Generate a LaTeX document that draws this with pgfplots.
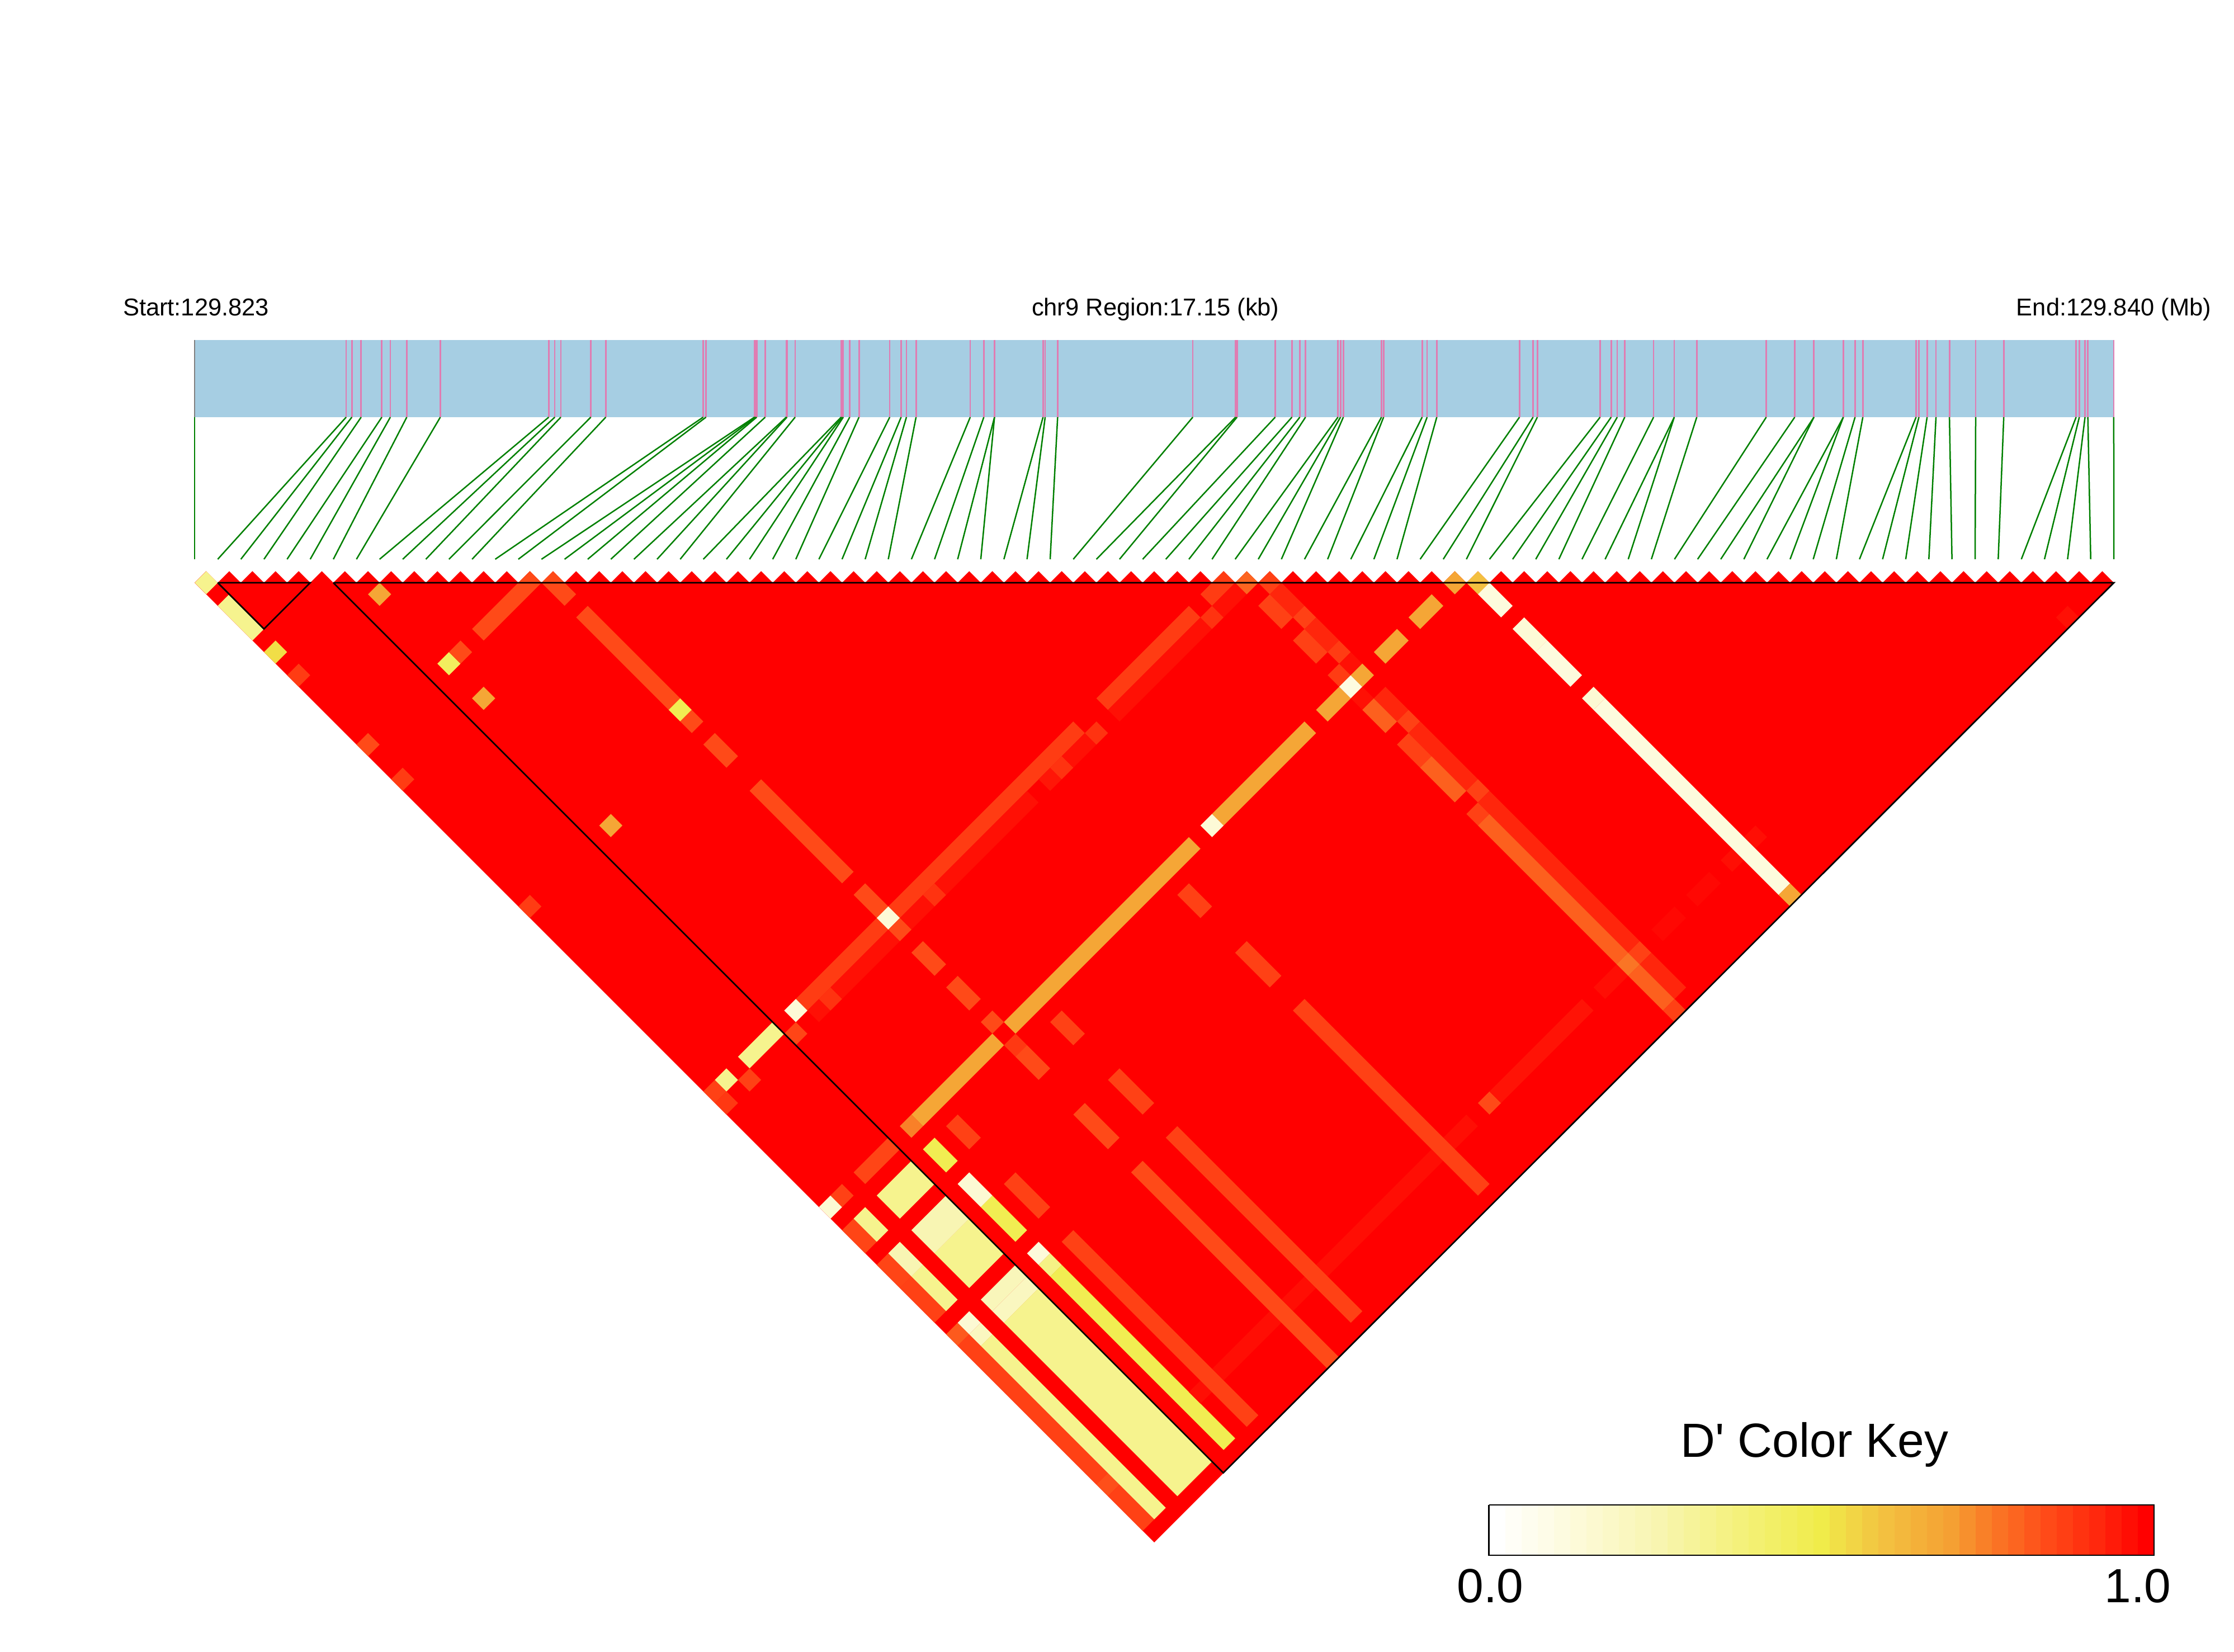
\documentclass[border=0pt]{standalone}
\usepackage{fontspec}
\setmainfont{Liberation Sans}
\newfontfamily\keyfont{Liberation Sans}
\usepackage{pgfplots}
\usepackage{pgfplotstable}
\pgfplotsset{compat=1.18}
\definecolor{bandblue}{HTML}{A6CEE3}
\definecolor{snppink}{HTML}{E07CB2}
\definecolor{linkgreen}{HTML}{008000}
\pgfplotsset{colormap={dprime}{
  rgb255(0pt)=(255,255,255) rgb255(125pt)=(253,250,216) rgb255(250pt)=(248,245,176)
  rgb255(350pt)=(245,242,133) rgb255(500pt)=(240,236,74) rgb255(550pt)=(242,213,69)
  rgb255(600pt)=(243,192,64) rgb255(700pt)=(245,160,51) rgb255(750pt)=(249,128,40)
  rgb255(850pt)=(255,74,24) rgb255(930pt)=(255,38,12) rgb255(1000pt)=(255,0,0)}}

% marker positions on the region bar (pixels), k = marker number
\pgfplotstableread[row sep=\\]{
k x\\
0 348\\ 1 619\\ 2 629.2\\ 3 645.8\\ 4 682.8\\ 5 698\\ 6 727.4\\ 7 787.4\\ 8 981.3\\ 9 992.1\\
10 1002.9\\ 11 1056.5\\ 12 1083.3\\ 13 1257.4\\ 14 1262.5\\ 15 1349.2\\ 16 1351.1\\ 17 1353.1\\ 18 1368.4\\ 19 1406\\
20 1407.3\\ 21 1421.9\\ 22 1504.2\\ 23 1506.1\\ 24 1508\\ 25 1519.5\\ 26 1536.1\\ 27 1591\\ 28 1611.4\\ 29 1620.9\\
30 1638.1\\ 31 1735\\ 32 1759.3\\ 33 1778.4\\ 34 1778.4\\ 35 1865.2\\ 36 1869\\ 37 1891.3\\ 38 2133\\ 39 2209.6\\
40 2212.1\\ 41 2280.4\\ 42 2310.3\\ 43 2324.4\\ 44 2334.6\\ 45 2392.6\\ 46 2397.1\\ 47 2402.2\\ 48 2470.4\\ 49 2474.2\\
50 2543.1\\ 51 2552\\ 52 2569.3\\ 53 2717.2\\ 54 2741.5\\ 55 2749.1\\ 56 2861.4\\ 57 2881.1\\ 58 2892\\ 59 2905.4\\
60 2957\\ 61 2994\\ 62 2994\\ 63 3034.2\\ 64 3158.5\\ 65 3209.4\\ 66 3243.7\\ 67 3243.7\\ 68 3296.3\\ 69 3296.3\\
70 3317.3\\ 71 3331.2\\ 72 3426.4\\ 73 3431.5\\ 74 3446.1\\ 75 3462\\ 76 3486.1\\ 77 3533\\ 78 3583.2\\ 79 3712.6\\
80 3718.3\\ 81 3728.5\\ 82 3733.6\\ 83 3779.9\\
}\snps

% non-red D' runs with fixed second marker: j, first i, last i, D'
\pgfplotstableread[row sep=\\]{
j a b D\\
15 10 14 .85\\
45 3 5 .33\\ 45 8 14 .88\\ 45 16 31 .88\\ 45 34 41 .88\\ 45 43 44 .88\\
46 2 2 .87\\ 46 6 6 .86\\ 46 8 8 .97\\ 46 9 9 .9\\ 46 10 14 .97\\ 46 16 17 .97\\ 46 18 18 .9\\ 46 19 26 .97\\
46 28 28 .96\\ 46 29 29 .9\\ 46 30 31 .97\\ 46 32 32 .9\\ 46 34 41 .97\\ 46 42 42 .9\\ 46 43 44 .97\\
55 3 5 .86\\ 55 8 14 .68\\ 55 16 31 .68\\ 55 34 41 .68\\ 55 43 44 .68\\ 55 48 49 .68\\ 55 51 52 .68\\ 55 54 54 .68\\
79 10 14 .975\\ 79 16 17 .975\\ 79 19 28 .975\\ 79 30 31 .975\\ 79 33 33 .85\\ 79 34 41 .965\\ 79 43 44 .975\\
79 48 49 .985\\ 79 51 52 .985\\ 79 54 54 .975\\ 79 56 56 .975\\
}\byj

% non-red D' runs with fixed first marker: i, first j, last j, D'
\pgfplotstableread[row sep=\\]{
i a b D\\
0 1 1 .33\\ 0 3 5 .33\\ 0 7 7 .53\\ 0 9 9 .88\\ 0 15 15 .85\\ 0 18 18 .88\\ 0 29 29 .88\\ 0 45 45 .87\\ 0 46 46 .89\\
0 55 55 .14\\ 0 57 58 .86\\ 0 60 61 .86\\ 0 62 64 .87\\ 0 66 66 .82\\ 0 67 78 .87\\ 0 79 79 .84\\ 0 80 82 .87\\
1 45 45 .33\\ 1 55 55 .87\\ 1 57 58 .33\\ 1 60 61 .24\\ 1 62 64 .33\\ 1 66 66 .14\\ 1 67 67 .2\\ 1 68 82 .33\\
7 9 9 .68\\ 7 15 15 .45\\ 7 18 18 .68\\ 7 29 29 .68\\ 7 45 45 .13\\ 7 55 55 .75\\ 7 57 58 .48\\ 7 60 61 .14\\
7 62 64 .48\\ 7 66 66 .12\\ 7 67 67 .35\\ 7 68 82 .48\\
8 15 15 .85\\ 8 79 79 .975\\
9 57 58 .87\\ 9 62 64 .87\\ 9 67 82 .87\\
15 16 17 .85\\ 15 19 26 .85\\ 15 27 27 .48\\ 15 28 28 .85\\ 15 30 31 .85\\ 15 34 41 .85\\ 15 43 44 .85\\ 15 45 45 .13\\
15 46 46 .85\\ 15 48 49 .85\\ 15 51 52 .85\\ 15 54 54 .85\\ 15 56 56 .89\\ 15 57 58 .85\\ 15 62 64 .85\\ 15 67 83 .85\\
18 57 58 .87\\ 18 62 64 .87\\ 18 67 82 .87\\
29 57 58 .87\\ 29 62 64 .87\\ 29 67 82 .87\\
33 55 55 .13\\
45 46 46 .8\\ 45 48 49 .87\\ 45 51 52 .87\\ 45 54 54 .88\\ 45 55 55 .1\\ 45 56 56 .97\\ 45 57 58 .81\\ 45 60 61 .87\\
45 62 64 .81\\ 45 66 66 .87\\ 45 67 78 .81\\ 45 79 79 .77\\ 45 80 82 .81\\ 45 83 83 .87\\
46 47 47 .87\\ 46 48 49 .93\\ 46 50 50 .87\\ 46 51 52 .93\\ 46 53 53 .88\\ 46 54 54 .97\\ 46 55 55 .68\\ 46 57 58 .93\\
46 59 59 .87\\ 46 60 64 .93\\ 46 65 65 .87\\ 46 66 78 .93\\ 46 79 79 .87\\ 46 80 82 .93\\
55 56 56 .6\\ 55 57 58 .11\\ 55 60 61 .13\\ 55 62 64 .11\\ 55 66 66 .14\\ 55 67 82 .11\\ 55 83 83 .68\\
79 83 83 .97\\
}\byi

% the pale block, first markers 3 to 5 together (i = middle one)
\pgfplotstableread[row sep=\\]{
i a b D\\
4 57 58 .33\\ 4 60 61 .24\\ 4 62 64 .33\\ 4 66 66 .22\\ 4 67 67 .2\\ 4 68 82 .33\\
}\paleblock

% colour key cells: centre x, value
\pgfplotstableread[row sep=\\]{
x D\\
2677 0\\ 2706 .025\\ 2735 .05\\ 2764.1 .075\\ 2793.1 .1\\ 2822.1 .125\\ 2851.1 .15\\ 2880.1 .175\\ 2909.2 .2\\ 2938.2 .225\\
2967.2 .25\\ 2996.2 .275\\ 3025.2 .3\\ 3054.3 .325\\ 3083.3 .35\\ 3112.3 .375\\ 3141.3 .4\\ 3170.3 .425\\ 3199.4 .45\\ 3228.4 .475\\
3257.4 .5\\ 3286.4 .525\\ 3315.4 .55\\ 3344.5 .575\\ 3373.5 .6\\ 3402.5 .625\\ 3431.5 .65\\ 3460.5 .675\\ 3489.6 .7\\ 3518.6 .725\\
3547.6 .75\\ 3576.6 .775\\ 3605.6 .8\\ 3634.7 .825\\ 3663.7 .85\\ 3692.7 .875\\ 3721.7 .9\\ 3750.7 .925\\ 3779.8 .95\\ 3808.8 .975\\
3837.8 1\\
}\keycells

\begin{document}
\begin{tikzpicture}
\useasboundingbox (0,0) rectangle (799pt,590.6pt);
\begin{axis}[
  at={(0,0)},anchor=south west,
  width=799pt,height=590.6pt,scale only axis,hide axis,clip=false,
  xmin=0,xmax=3995,ymin=0,ymax=2953,y dir=reverse,
  colormap name=dprime,point meta min=0,point meta max=1]

% region bar with markers and links
\addplot[fill=bandblue,draw=none] coordinates {(348,607.6)(3780,607.6)(3780,746)(348,746)};
\addplot[snppink,line width=.55pt,quiver={u=0,v=138.4}] table[x=x,y expr=607.6] {\snps};
\addplot[gray,line width=.55pt,quiver={u=0,v=138.4}] coordinates {(348,607.6)};
\addplot[linkgreen,line width=.5pt,quiver={u=348+41.35*\thisrow{k}-\thisrow{x},v=254}] table[x=x,y expr=746] {\snps};

% red background: D'=1 unless listed
\addplot[fill=red,draw=none] coordinates {(348,1042)(3780,1042)(2064,2758)};
\addplot[red,line width=5.848pt,quiver={u=20.675,v=20.675},restrict x to domain=300:3760]
  table[x expr=348+20.675*(2*\thisrow{k}+0.5),y expr=1031.66] {\snps};

% stripes of non-red cells, butt-capped
\addplot[line width=5.848pt,point meta=\thisrow{D},
  quiver={u=20.675*(\thisrow{b}-\thisrow{a}+1),v=-20.675*(\thisrow{b}-\thisrow{a}+1),colored=mapped color}]
  table[x expr=348+20.675*(\thisrow{a}-0.5+\thisrow{j}),y expr=1042+20.675*(\thisrow{j}-\thisrow{a}-0.5)] {\byj};
\addplot[line width=5.848pt,point meta=\thisrow{D},
  quiver={u=20.675*(\thisrow{b}-\thisrow{a}+1),v=20.675*(\thisrow{b}-\thisrow{a}+1),colored=mapped color}]
  table[x expr=348+20.675*(\thisrow{i}+\thisrow{a}-0.5),y expr=1042+20.675*(\thisrow{a}-\thisrow{i}-1.5)] {\byi};
\addplot[line width=17.544pt,point meta=\thisrow{D},
  quiver={u=20.675*(\thisrow{b}-\thisrow{a}+1),v=20.675*(\thisrow{b}-\thisrow{a}+1),colored=mapped color}]
  table[x expr=348+20.675*(\thisrow{i}+\thisrow{a}-0.5),y expr=1042+20.675*(\thisrow{a}-\thisrow{i}-1.5)] {\paleblock};

% block outlines
\addplot[black,line width=.55pt] coordinates {(389.35,1042)(554.75,1042)(472,1124.7)(389.35,1042)};
\addplot[black,line width=.55pt] coordinates {(596,1042)(3780,1042)(2187.6,2633.6)(596,1042)};

% colour key
\addplot[line width=5.82pt,point meta=\thisrow{D},quiver={u=0,v=90,colored=mapped color}]
  table[x=x,y expr=2691] {\keycells};
\addplot[black,line width=.55pt] coordinates {(2662.5,2691)(3852,2691)(3852,2781)(2662.5,2781)(2662.5,2691)};

\node[inner sep=0pt,anchor=base west,font=\fontsize{8.7}{10}\selectfont] at (axis cs:219,565) {Start:129.823};
\node[inner sep=0pt,anchor=base west,font=\fontsize{8.7}{10}\selectfont] at (axis cs:1844,565) {chr9 Region:17.15 (kb)};
\node[inner sep=0pt,anchor=base east,font=\fontsize{8.7}{10}\selectfont] at (axis cs:3955,565) {End:129.840 (Mb)};
\node[inner sep=0pt,anchor=base,font=\keyfont\fontsize{17.15}{20}\selectfont] at (axis cs:3245,2605) {D' Color Key};
\node[inner sep=0pt,anchor=base,font=\fontsize{17.15}{20}\selectfont] at (axis cs:2665,2865) {0.0};
\node[inner sep=0pt,anchor=base,font=\fontsize{17.15}{20}\selectfont] at (axis cs:3823,2865) {1.0};
\end{axis}
\end{tikzpicture}
\end{document}
